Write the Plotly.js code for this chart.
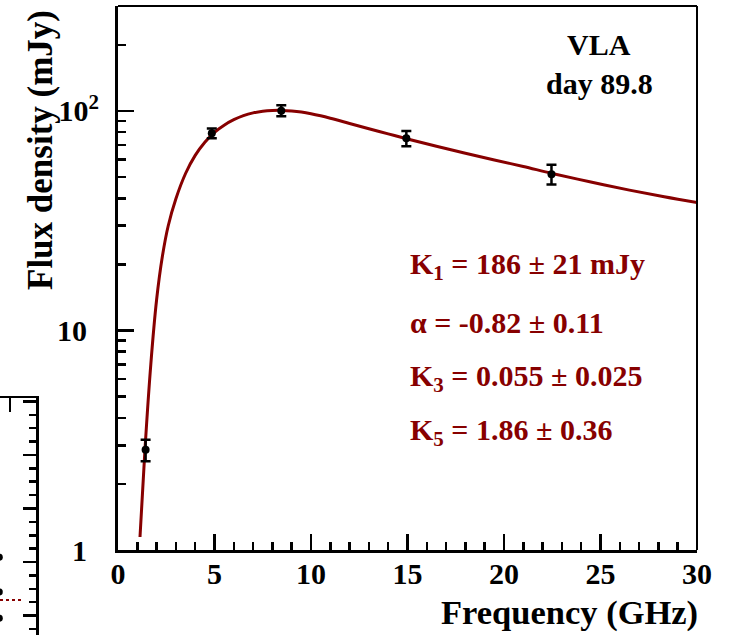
<!DOCTYPE html>
<html>
<head>
<meta charset="utf-8">
<script src="https://cdn.plot.ly/plotly-3.0.1.min.js"></script>
<style>
  html, body { margin: 0; padding: 0; background: #ffffff; }
  #chart { width: 731px; height: 635px; }
</style>
</head>
<body>
<div id="chart"></div>
<script>
// VLA radio spectrum, day 89.8: measured flux densities with 1-sigma errors
const obsFreq = [1.43, 4.86, 8.46, 14.94, 22.46];      // GHz
const obsFlux = [2.86, 79.1, 100.3, 75.1, 51.5];      // mJy
const obsErr  = [0.32, 4.0, 5.8, 6.0, 5.3];           // mJy

// fitted model spectrum, sampled along the plotted curve
const modelFreq = [1.14, 1.40, 1.70, 2.00, 2.30, 2.60, 3.00, 3.50, 4.00, 4.50, 5.00,
                   5.50, 6.00, 6.50, 7.00, 7.50, 8.00, 8.50, 9.00, 9.50, 10.0, 10.5,
                   11.0, 12.0, 13.0, 14.0, 15.0, 16.5, 18.0, 19.5, 21.0, 22.5, 24.5,
                   26.5, 28.3, 30.0];
const modelFlux = [1.146, 2.897, 7.015, 13.80, 21.78, 29.92, 39.81, 51.88, 62.73, 72.03, 79.89,
                   86.10, 91.20, 95.17, 97.95, 99.65, 100.46, 100.58, 100.0, 98.86, 97.16, 95.06,
                   92.68, 87.70, 82.99, 78.62, 74.56, 69.02, 64.20, 59.81, 55.82, 51.91, 47.46,
                   43.58, 40.62, 38.23];

// fit parameters printed inside the frame
const fitLines = [
  'K<sub>1</sub> = 186 ± 21 mJy',
  'α = -0.82 ± 0.11',
  'K<sub>3</sub> = 0.055 ± 0.025',
  'K<sub>5</sub> = 1.86 ± 0.36'
];
const panelLabel = ['VLA', 'day 89.8'];

// axis ticks
const xTickVals = [0, 5, 10, 15, 20, 25, 30];
const yTickVals = [1, 10, 100];
const yTickText = ['1\u2009\u2009', '10\u2009\u2009', '10<sup>2</sup>'];
const yMinorVals = [2, 3, 4, 5, 6, 7, 8, 9, 20, 30, 40, 50, 60, 70, 80, 90, 200];

// edge of the neighbouring panel (partly visible at the lower left)
const nbDotX = [-0.02, -0.02, -0.02];
const nbDotY = [1.09, 0.44, -0.05];
const nbFitX = [0.0, 0.6];
const nbFitY = [0.29, 0.29];

const W = 731, H = 635;
const L = 118, R = 697, T = 6, B = 550;
const px = v => v / W;
const py = v => 1 - v / H;

const serif = 'Liberation Serif, Times New Roman, serif';
const darkRed = '#870000';

const traces = [
  {
    x: modelFreq, y: modelFlux, xaxis: 'x', yaxis: 'y',
    mode: 'lines', line: { color: darkRed, width: 3, shape: 'spline', smoothing: 1 },
    hoverinfo: 'skip'
  },
  {
    x: obsFreq, y: obsFlux, xaxis: 'x', yaxis: 'y',
    mode: 'markers',
    marker: { color: 'black', size: 8 },
    error_y: { type: 'data', array: obsErr, visible: true, color: 'black', thickness: 2.5, width: 5 }
  },
  {
    x: nbFitX, y: nbFitY, xaxis: 'x2', yaxis: 'y2',
    mode: 'lines', line: { color: darkRed, width: 2, dash: 'dot' }
  },
  {
    x: nbDotX, y: nbDotY, xaxis: 'x2', yaxis: 'y2',
    mode: 'markers', marker: { color: 'black', size: 7 }
  }
];

const tickFont = { family: serif, size: 30, color: 'black', weight: 'bold' };

const annotations = [];
annotations.push({
  xref: 'paper', yref: 'paper', x: px(700), y: py(612), xanchor: 'right', yanchor: 'middle',
  text: 'Frequency (GHz)', showarrow: false,
  font: { family: serif, size: 34.5, color: 'black', weight: 'bold' }
});
annotations.push({
  xref: 'paper', yref: 'paper', x: px(40), y: py(8), xanchor: 'center', yanchor: 'top',
  text: 'Flux density (mJy)', textangle: -90, showarrow: false,
  font: { family: serif, size: 35, color: 'black', weight: 'bold' }
});
const labelY = [45, 84];
panelLabel.forEach((t, i) => annotations.push({
  xref: 'paper', yref: 'paper', x: px(599), y: py(labelY[i]), xanchor: 'center', yanchor: 'middle',
  text: t, showarrow: false,
  font: { family: serif, size: 30, color: 'black', weight: 'bold' }
}));
const fitY = [266, 322, 378, 432];
fitLines.forEach((t, i) => annotations.push({
  xref: 'paper', yref: 'paper', x: px(408), y: py(fitY[i]), xanchor: 'left', yanchor: 'middle',
  text: t, showarrow: false,
  font: { family: serif, size: 30, color: darkRed, weight: 'bold' }
}));

const layout = {
  width: W, height: H,
  margin: { l: 0, r: 0, t: 0, b: 0 },
  paper_bgcolor: 'white', plot_bgcolor: 'white',
  showlegend: false,
  xaxis: {
    domain: [px(L), px(R)], anchor: 'y', range: [0, 30],
    tickmode: 'array', tickvals: xTickVals,
    ticks: 'inside', ticklen: 16, tickwidth: 2.5, tickcolor: 'black',
    showline: true, linewidth: 3, linecolor: 'black',
    showgrid: false, zeroline: false, automargin: false,
    tickfont: tickFont, ticklabelstandoff: -5,
    minor: { dtick: 1, tick0: 0, ticks: 'inside', ticklen: 8, tickwidth: 2.5, tickcolor: 'black', showgrid: false }
  },
  yaxis: {
    domain: [py(B), py(T)], anchor: 'x', type: 'log', range: [0, 2.478],
    tickmode: 'array', tickvals: yTickVals, ticktext: yTickText,
    ticks: 'inside', ticklen: 16, tickwidth: 2.5, tickcolor: 'black',
    showline: true, linewidth: 3, linecolor: 'black',
    showgrid: false, zeroline: false, automargin: false,
    tickfont: tickFont, ticklabelstandoff: 10,
    minor: { tickmode: 'array', tickvals: yMinorVals, ticks: 'inside', ticklen: 8, tickwidth: 2.5, tickcolor: 'black', showgrid: false }
  },
  xaxis2: {
    domain: [0, px(36)], anchor: 'y2', side: 'top', range: [0, 1],
    tickmode: 'array', tickvals: [0.28], ticks: 'inside', ticklen: 14, tickwidth: 2.5, tickcolor: 'black',
    showticklabels: false, showline: true, linewidth: 2.5, linecolor: 'black',
    showgrid: false, zeroline: false, automargin: false
  },
  yaxis2: {
    domain: [0, py(398)], anchor: 'x2', side: 'right', range: [-0.364, 4.065],
    tick0: 0, dtick: 1, ticks: 'inside', ticklen: 13, tickwidth: 2.5, tickcolor: 'black',
    showticklabels: false, showline: true, linewidth: 2.5, linecolor: 'black',
    showgrid: false, zeroline: false, automargin: false,
    minor: { dtick: 0.25, tick0: 0, ticks: 'inside', ticklen: 7, tickwidth: 2.5, tickcolor: 'black', showgrid: false }
  },
  shapes: [
    { type: 'line', xref: 'paper', yref: 'paper', x0: px(L), x1: px(R), y0: py(T), y1: py(T), line: { color: 'black', width: 2 } },
    { type: 'line', xref: 'paper', yref: 'paper', x0: px(R), x1: px(R), y0: py(T), y1: py(B), line: { color: 'black', width: 2 } }
  ],
  annotations: annotations
};

Plotly.newPlot('chart', traces, layout, { displayModeBar: false, staticPlot: true });
</script>
</body>
</html>
